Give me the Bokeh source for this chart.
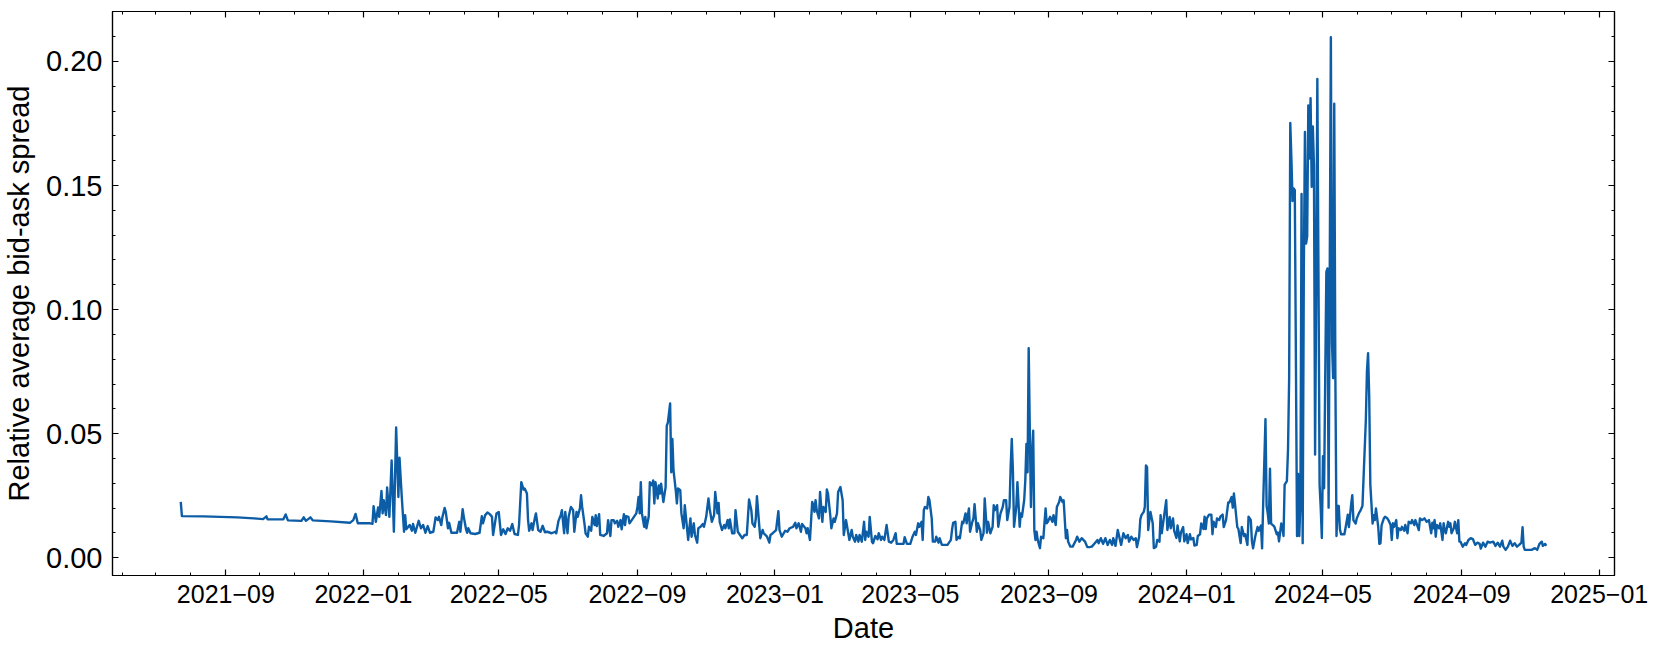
import pandas as pd
from bokeh.plotting import figure
from bokeh.models import (Range1d, FixedTicker, DatetimeTickFormatter, DatetimeAxis,
                          LinearAxis, PrintfTickFormatter, ColumnDataSource,
                          CustomLabelingPolicy)
from bokeh.embed import file_html
from bokeh.resources import INLINE

# ---------------- data ----------------
obs_2021 = [
    ("2021-07-23", 0.0225), ("2021-07-24", 0.0168), ("2021-08-12", 0.0167), ("2021-09-11", 0.0163),
    ("2021-09-26", 0.0159), ("2021-10-04", 0.0156), ("2021-10-07", 0.0167), ("2021-10-08", 0.0155),
    ("2021-10-22", 0.0155), ("2021-10-24", 0.0175), ("2021-10-26", 0.0151), ("2021-11-07", 0.0149),
    ("2021-11-09", 0.0163), ("2021-11-11", 0.0149), ("2021-11-15", 0.0163), ("2021-11-17", 0.0151),
    ("2021-12-03", 0.0147), ("2021-12-20", 0.0141), ("2021-12-23", 0.0152), ("2021-12-25", 0.0177),
    ("2021-12-27", 0.0139),
]

obs_2022 = [
    ("2022-01-07", 0.0139), ("2022-01-09", 0.0137), ("2022-01-10", 0.0208), ("2022-01-12", 0.0145),
    ("2022-01-14", 0.0203), ("2022-01-15", 0.0165), ("2022-01-17", 0.0269), ("2022-01-18", 0.0179),
    ("2022-01-19", 0.0232), ("2022-01-21", 0.0172), ("2022-01-22", 0.0283), ("2022-01-24", 0.0165),
    ("2022-01-26", 0.0392), ("2022-01-28", 0.0105), ("2022-01-30", 0.0525), ("2022-02-01", 0.0245),
    ("2022-02-02", 0.0403), ("2022-02-04", 0.0245), ("2022-02-06", 0.0105), ("2022-02-07", 0.0172),
    ("2022-02-08", 0.0115), ("2022-02-11", 0.0132), ("2022-02-13", 0.0109), ("2022-02-14", 0.0136),
    ("2022-02-16", 0.0101), ("2022-02-19", 0.0149), ("2022-02-21", 0.0119), ("2022-02-23", 0.0132),
    ("2022-02-25", 0.0101), ("2022-02-27", 0.0128), ("2022-03-01", 0.0101), ("2022-03-04", 0.0105),
    ("2022-03-06", 0.0163), ("2022-03-08", 0.0152), ("2022-03-09", 0.0165), ("2022-03-11", 0.0132),
    ("2022-03-12", 0.0163), ("2022-03-14", 0.0201), ("2022-03-15", 0.0185), ("2022-03-17", 0.0119),
    ("2022-03-18", 0.0141), ("2022-03-20", 0.0101), ("2022-03-22", 0.0101), ("2022-03-25", 0.0101),
    ("2022-03-27", 0.0145), ("2022-03-28", 0.0105), ("2022-03-30", 0.0196), ("2022-03-31", 0.0165),
    ("2022-04-02", 0.0115), ("2022-04-03", 0.0101), ("2022-04-04", 0.0119), ("2022-04-06", 0.0099),
    ("2022-04-10", 0.0096), ("2022-04-14", 0.0101), ("2022-04-16", 0.0168), ("2022-04-17", 0.0139),
    ("2022-04-19", 0.0172), ("2022-04-21", 0.0183), ("2022-04-23", 0.0176), ("2022-04-25", 0.0165),
    ("2022-04-26", 0.0092), ("2022-04-29", 0.0179), ("2022-05-01", 0.0185), ("2022-05-03", 0.0092),
    ("2022-05-05", 0.0115), ("2022-05-07", 0.0096), ("2022-05-09", 0.0119), ("2022-05-11", 0.0109),
    ("2022-05-13", 0.0136), ("2022-05-15", 0.0096), ("2022-05-18", 0.0092), ("2022-05-19", 0.0132),
    ("2022-05-21", 0.0305), ("2022-05-23", 0.0275), ("2022-05-24", 0.0279), ("2022-05-26", 0.0259),
    ("2022-05-27", 0.0152), ("2022-05-28", 0.0109), ("2022-05-30", 0.0139), ("2022-05-31", 0.0112),
    ("2022-06-02", 0.0159), ("2022-06-03", 0.0179), ("2022-06-05", 0.0112), ("2022-06-07", 0.0105),
    ("2022-06-09", 0.0129), ("2022-06-11", 0.0103), ("2022-06-13", 0.0105), ("2022-06-17", 0.0099),
    ("2022-06-20", 0.0105), ("2022-06-21", 0.0099), ("2022-06-23", 0.0149), ("2022-06-25", 0.0172),
    ("2022-06-26", 0.0192), ("2022-06-28", 0.0099), ("2022-06-29", 0.0185), ("2022-07-01", 0.0099),
    ("2022-07-02", 0.0165), ("2022-07-04", 0.0205), ("2022-07-06", 0.0192), ("2022-07-07", 0.0105),
    ("2022-07-09", 0.0185), ("2022-07-10", 0.0165), ("2022-07-12", 0.0199), ("2022-07-13", 0.0252),
    ("2022-07-14", 0.0205), ("2022-07-16", 0.0139), ("2022-07-17", 0.0099), ("2022-07-19", 0.0085),
    ("2022-07-20", 0.0125), ("2022-07-22", 0.0109), ("2022-07-23", 0.0165), ("2022-07-25", 0.0132),
    ("2022-07-26", 0.0172), ("2022-07-27", 0.0128), ("2022-07-29", 0.0176), ("2022-07-30", 0.0092),
    ("2022-08-02", 0.0088), ("2022-08-05", 0.0099), ("2022-08-06", 0.0152), ("2022-08-08", 0.0088),
    ("2022-08-09", 0.0152), ("2022-08-11", 0.0152), ("2022-08-12", 0.0139), ("2022-08-14", 0.0149),
    ("2022-08-15", 0.0125), ("2022-08-17", 0.0152), ("2022-08-18", 0.0115), ("2022-08-20", 0.0176),
    ("2022-08-21", 0.0132), ("2022-08-22", 0.0168), ("2022-08-24", 0.0165), ("2022-08-25", 0.0139),
    ("2022-08-28", 0.0159), ("2022-08-31", 0.0179), ("2022-09-01", 0.0205), ("2022-09-02", 0.0245),
    ("2022-09-03", 0.0179), ("2022-09-04", 0.0305), ("2022-09-05", 0.0179), ("2022-09-07", 0.0125),
    ("2022-09-08", 0.0165), ("2022-09-09", 0.0119), ("2022-09-11", 0.0165), ("2022-09-12", 0.0305),
    ("2022-09-14", 0.0292), ("2022-09-15", 0.0312), ("2022-09-16", 0.0219), ("2022-09-17", 0.0305),
    ("2022-09-19", 0.0239), ("2022-09-20", 0.0292), ("2022-09-21", 0.0259), ("2022-09-22", 0.0299),
    ("2022-09-24", 0.0225), ("2022-09-26", 0.0285), ("2022-09-27", 0.0532), ("2022-09-28", 0.0545),
    ("2022-09-30", 0.0622), ("2022-10-01", 0.0345), ("2022-10-02", 0.0479), ("2022-10-03", 0.0352),
    ("2022-10-05", 0.0272), ("2022-10-06", 0.0219), ("2022-10-07", 0.0279), ("2022-10-09", 0.0272),
    ("2022-10-10", 0.0179), ("2022-10-12", 0.0119), ("2022-10-13", 0.0212), ("2022-10-15", 0.0119),
    ("2022-10-16", 0.0072), ("2022-10-18", 0.0159), ("2022-10-19", 0.0085), ("2022-10-21", 0.0139),
    ("2022-10-22", 0.0092), ("2022-10-24", 0.0061), ("2022-10-25", 0.0119), ("2022-10-27", 0.0125),
    ("2022-10-29", 0.0136), ("2022-10-30", 0.0125), ("2022-11-01", 0.0165), ("2022-11-03", 0.0239),
    ("2022-11-04", 0.0199), ("2022-11-06", 0.0145), ("2022-11-08", 0.0172), ("2022-11-09", 0.0265),
    ("2022-11-11", 0.0179), ("2022-11-12", 0.0221), ("2022-11-13", 0.0145), ("2022-11-15", 0.0112),
    ("2022-11-17", 0.0132), ("2022-11-18", 0.0119), ("2022-11-20", 0.0152), ("2022-11-21", 0.0119),
    ("2022-11-22", 0.0155), ("2022-11-24", 0.0099), ("2022-11-26", 0.0099), ("2022-11-27", 0.0192),
    ("2022-11-29", 0.0105), ("2022-12-01", 0.0092), ("2022-12-03", 0.0079), ("2022-12-05", 0.0092),
    ("2022-12-07", 0.0092), ("2022-12-09", 0.0235), ("2022-12-11", 0.0192), ("2022-12-12", 0.0139),
    ("2022-12-14", 0.0125), ("2022-12-15", 0.0159), ("2022-12-16", 0.0248), ("2022-12-18", 0.0132),
    ("2022-12-19", 0.0079), ("2022-12-21", 0.0112), ("2022-12-22", 0.0099), ("2022-12-25", 0.0085),
    ("2022-12-27", 0.0061), ("2022-12-28", 0.0092), ("2022-12-30", 0.0099),
]

obs_2023 = [
    ("2023-01-02", 0.0112), ("2023-01-04", 0.0188), ("2023-01-05", 0.0112), ("2023-01-07", 0.0085),
    ("2023-01-10", 0.0109), ("2023-01-12", 0.0105), ("2023-01-14", 0.0119), ("2023-01-17", 0.0125),
    ("2023-01-19", 0.0141), ("2023-01-20", 0.0119), ("2023-01-22", 0.0139), ("2023-01-24", 0.0105),
    ("2023-01-25", 0.0136), ("2023-01-28", 0.0119), ("2023-01-29", 0.0099), ("2023-01-30", 0.0119),
    ("2023-02-01", 0.0072), ("2023-02-03", 0.0225), ("2023-02-04", 0.0212), ("2023-02-05", 0.0185),
    ("2023-02-06", 0.0232), ("2023-02-07", 0.0192), ("2023-02-09", 0.0159), ("2023-02-10", 0.0265),
    ("2023-02-12", 0.0145), ("2023-02-13", 0.0205), ("2023-02-15", 0.0185), ("2023-02-16", 0.0275),
    ("2023-02-17", 0.0259), ("2023-02-19", 0.0172), ("2023-02-20", 0.0119), ("2023-02-22", 0.0159),
    ("2023-02-23", 0.0145), ("2023-02-25", 0.0179), ("2023-02-26", 0.0265), ("2023-02-28", 0.0285),
    ("2023-03-02", 0.0232), ("2023-03-03", 0.0092), ("2023-03-05", 0.0152), ("2023-03-06", 0.0125),
    ("2023-03-08", 0.0072), ("2023-03-10", 0.0112), ("2023-03-11", 0.0085), ("2023-03-13", 0.0065),
    ("2023-03-14", 0.0092), ("2023-03-16", 0.0065), ("2023-03-17", 0.0092), ("2023-03-19", 0.0065),
    ("2023-03-21", 0.0145), ("2023-03-22", 0.0072), ("2023-03-23", 0.0105), ("2023-03-25", 0.0085),
    ("2023-03-26", 0.0165), ("2023-03-28", 0.0065), ("2023-03-29", 0.0059), ("2023-03-31", 0.0088),
    ("2023-04-02", 0.0075), ("2023-04-03", 0.0099), ("2023-04-05", 0.0072), ("2023-04-06", 0.0085),
    ("2023-04-08", 0.0072), ("2023-04-10", 0.0132), ("2023-04-12", 0.0065), ("2023-04-14", 0.0061),
    ("2023-04-16", 0.0072), ("2023-04-18", 0.0099), ("2023-04-19", 0.0056), ("2023-04-22", 0.0056),
    ("2023-04-25", 0.0056), ("2023-04-26", 0.0083), ("2023-04-28", 0.0056), ("2023-05-01", 0.0056),
    ("2023-05-03", 0.0085), ("2023-05-05", 0.0105), ("2023-05-06", 0.0092), ("2023-05-08", 0.0139),
    ("2023-05-09", 0.0125), ("2023-05-11", 0.0145), ("2023-05-12", 0.0072), ("2023-05-13", 0.0192),
    ("2023-05-14", 0.0205), ("2023-05-16", 0.0199), ("2023-05-17", 0.0245), ("2023-05-18", 0.0232),
    ("2023-05-20", 0.0159), ("2023-05-21", 0.0065), ("2023-05-23", 0.0065), ("2023-05-24", 0.0085),
    ("2023-05-26", 0.0061), ("2023-05-27", 0.0079), ("2023-05-29", 0.0052), ("2023-06-01", 0.0052),
    ("2023-06-03", 0.0052), ("2023-06-06", 0.0072), ("2023-06-07", 0.0112), ("2023-06-08", 0.0141),
    ("2023-06-10", 0.0145), ("2023-06-11", 0.0072), ("2023-06-13", 0.0085), ("2023-06-14", 0.0079),
    ("2023-06-16", 0.0145), ("2023-06-17", 0.0139), ("2023-06-19", 0.0179), ("2023-06-20", 0.0139),
    ("2023-06-22", 0.0199), ("2023-06-23", 0.0105), ("2023-06-25", 0.0145), ("2023-06-26", 0.0159),
    ("2023-06-27", 0.0216), ("2023-06-29", 0.0105), ("2023-06-30", 0.0139), ("2023-07-02", 0.0112),
    ("2023-07-03", 0.0072), ("2023-07-05", 0.0099), ("2023-07-06", 0.0239), ("2023-07-08", 0.0101),
    ("2023-07-09", 0.0145), ("2023-07-11", 0.0099), ("2023-07-13", 0.0125), ("2023-07-14", 0.0212),
    ("2023-07-15", 0.0192), ("2023-07-17", 0.0212), ("2023-07-18", 0.0125), ("2023-07-20", 0.0179),
    ("2023-07-22", 0.0205), ("2023-07-23", 0.0232), ("2023-07-25", 0.0232), ("2023-07-26", 0.0152),
    ("2023-07-28", 0.0205), ("2023-07-29", 0.0365), ("2023-07-30", 0.0479), ("2023-07-31", 0.0352),
    ("2023-08-01", 0.0125), ("2023-08-03", 0.0205), ("2023-08-04", 0.0305), ("2023-08-05", 0.0219),
    ("2023-08-06", 0.0125), ("2023-08-07", 0.0179), ("2023-08-08", 0.0165), ("2023-08-10", 0.0232),
    ("2023-08-11", 0.0312), ("2023-08-12", 0.0459), ("2023-08-13", 0.0345), ("2023-08-14", 0.0845),
    ("2023-08-15", 0.0512), ("2023-08-16", 0.0205), ("2023-08-17", 0.0419), ("2023-08-18", 0.0512),
    ("2023-08-19", 0.0112), ("2023-08-20", 0.0072), ("2023-08-21", 0.0105), ("2023-08-22", 0.0072),
    ("2023-08-24", 0.0039), ("2023-08-25", 0.0085), ("2023-08-27", 0.0079), ("2023-08-29", 0.0199),
    ("2023-08-30", 0.0139), ("2023-08-31", 0.0145), ("2023-09-02", 0.0165), ("2023-09-04", 0.0145),
    ("2023-09-05", 0.0172), ("2023-09-07", 0.0132), ("2023-09-08", 0.0205), ("2023-09-10", 0.0225),
    ("2023-09-11", 0.0245), ("2023-09-13", 0.0225), ("2023-09-14", 0.0232), ("2023-09-16", 0.0079),
    ("2023-09-17", 0.0112), ("2023-09-18", 0.0065), ("2023-09-20", 0.0045), ("2023-09-22", 0.0045),
    ("2023-09-25", 0.0072), ("2023-09-26", 0.0085), ("2023-09-28", 0.0065), ("2023-09-30", 0.0079),
    ("2023-10-03", 0.0065), ("2023-10-05", 0.0043), ("2023-10-07", 0.0043), ("2023-10-09", 0.0045),
    ("2023-10-12", 0.0061), ("2023-10-14", 0.0072), ("2023-10-15", 0.0059), ("2023-10-17", 0.0079),
    ("2023-10-19", 0.0056), ("2023-10-21", 0.0079), ("2023-10-23", 0.0052), ("2023-10-25", 0.0072),
    ("2023-10-27", 0.0052), ("2023-10-28", 0.0079), ("2023-10-30", 0.0048), ("2023-11-01", 0.0112),
    ("2023-11-03", 0.0072), ("2023-11-04", 0.0052), ("2023-11-06", 0.0099), ("2023-11-08", 0.0079),
    ("2023-11-10", 0.0092), ("2023-11-11", 0.0065), ("2023-11-13", 0.0085), ("2023-11-15", 0.0072),
    ("2023-11-17", 0.0079), ("2023-11-18", 0.0043), ("2023-11-20", 0.0085), ("2023-11-21", 0.0155),
    ("2023-11-22", 0.0172), ("2023-11-24", 0.0185), ("2023-11-25", 0.0205), ("2023-11-26", 0.0372),
    ("2023-11-27", 0.0365), ("2023-11-28", 0.0112), ("2023-11-29", 0.0152), ("2023-11-30", 0.0185),
    ("2023-12-02", 0.0139), ("2023-12-03", 0.0039), ("2023-12-05", 0.0045), ("2023-12-06", 0.0072),
    ("2023-12-08", 0.0065), ("2023-12-09", 0.0172), ("2023-12-10", 0.0099), ("2023-12-12", 0.0165),
    ("2023-12-14", 0.0232), ("2023-12-15", 0.0112), ("2023-12-17", 0.0165), ("2023-12-18", 0.0119),
    ("2023-12-20", 0.0159), ("2023-12-21", 0.0109), ("2023-12-23", 0.0080), ("2023-12-24", 0.0130),
    ("2023-12-26", 0.0066), ("2023-12-27", 0.0102), ("2023-12-29", 0.0124), ("2023-12-30", 0.0066),
]

obs_2024 = [
    ("2024-01-01", 0.0095), ("2024-01-02", 0.0059), ("2024-01-04", 0.0095), ("2024-01-05", 0.0074),
    ("2024-01-07", 0.0080), ("2024-01-08", 0.0049), ("2024-01-10", 0.0052), ("2024-01-11", 0.0088),
    ("2024-01-13", 0.0095), ("2024-01-14", 0.0138), ("2024-01-16", 0.0116), ("2024-01-17", 0.0166),
    ("2024-01-18", 0.0116), ("2024-01-19", 0.0159), ("2024-01-21", 0.0174), ("2024-01-23", 0.0174),
    ("2024-01-24", 0.0095), ("2024-01-25", 0.0145), ("2024-01-27", 0.0124), ("2024-01-28", 0.0159),
    ("2024-01-30", 0.0152), ("2024-01-31", 0.0166), ("2024-02-02", 0.0174), ("2024-02-03", 0.0124),
    ("2024-02-05", 0.0152), ("2024-02-07", 0.0223), ("2024-02-08", 0.0223), ("2024-02-10", 0.0245),
    ("2024-02-11", 0.0202), ("2024-02-12", 0.0259), ("2024-02-13", 0.0216), ("2024-02-15", 0.0124),
    ("2024-02-16", 0.0116), ("2024-02-18", 0.0059), ("2024-02-19", 0.0124), ("2024-02-21", 0.0088),
    ("2024-02-22", 0.0095), ("2024-02-24", 0.0052), ("2024-02-25", 0.0166), ("2024-02-27", 0.0152),
    ("2024-02-28", 0.0066), ("2024-02-29", 0.0038), ("2024-03-02", 0.0088), ("2024-03-04", 0.0124),
    ("2024-03-05", 0.0109), ("2024-03-07", 0.0130), ("2024-03-08", 0.0038), ("2024-03-09", 0.0223),
    ("2024-03-11", 0.0559), ("2024-03-12", 0.0209), ("2024-03-13", 0.0180), ("2024-03-14", 0.0138),
    ("2024-03-15", 0.0359), ("2024-03-16", 0.0138), ("2024-03-18", 0.0130), ("2024-03-19", 0.0124),
    ("2024-03-21", 0.0095), ("2024-03-22", 0.0102), ("2024-03-23", 0.0066), ("2024-03-25", 0.0138),
    ("2024-03-26", 0.0124), ("2024-03-27", 0.0088), ("2024-03-28", 0.0295), ("2024-03-30", 0.0309),
    ("2024-03-31", 0.0438), ("2024-04-01", 0.0724), ("2024-04-02", 0.1752), ("2024-04-03", 0.1609),
    ("2024-04-04", 0.1438), ("2024-04-05", 0.1488), ("2024-04-06", 0.1481), ("2024-04-07", 0.0795),
    ("2024-04-08", 0.0088), ("2024-04-09", 0.0338), ("2024-04-10", 0.0088), ("2024-04-11", 0.0223),
    ("2024-04-12", 0.1466), ("2024-04-13", 0.0059), ("2024-04-14", 0.1152), ("2024-04-15", 0.1716),
    ("2024-04-16", 0.1266), ("2024-04-17", 0.1295), ("2024-04-18", 0.1823), ("2024-04-19", 0.1609),
    ("2024-04-20", 0.1852), ("2024-04-21", 0.1495), ("2024-04-22", 0.1738), ("2024-04-23", 0.1581),
    ("2024-04-24", 0.0416), ("2024-04-25", 0.1080), ("2024-04-26", 0.1930), ("2024-04-27", 0.1152),
    ("2024-04-28", 0.0295), ("2024-04-29", 0.0202), ("2024-04-30", 0.0080), ("2024-05-01", 0.0409),
    ("2024-05-02", 0.0280), ("2024-05-03", 0.0724), ("2024-05-04", 0.1152), ("2024-05-05", 0.1166),
    ("2024-05-06", 0.0202), ("2024-05-07", 0.1152), ("2024-05-08", 0.2098), ("2024-05-09", 0.0866),
    ("2024-05-10", 0.0724), ("2024-05-11", 0.1830), ("2024-05-12", 0.0724), ("2024-05-13", 0.0088),
    ("2024-05-14", 0.0209), ("2024-05-15", 0.0209), ("2024-05-16", 0.0116), ("2024-05-17", 0.0095),
    ("2024-05-19", 0.0095), ("2024-05-20", 0.0095), ("2024-05-22", 0.0145), ("2024-05-23", 0.0174),
    ("2024-05-24", 0.0124), ("2024-05-26", 0.0216), ("2024-05-27", 0.0252), ("2024-05-28", 0.0152),
    ("2024-05-30", 0.0138), ("2024-05-31", 0.0159), ("2024-06-02", 0.0181), ("2024-06-03", 0.0188),
    ("2024-06-05", 0.0209), ("2024-06-06", 0.0323), ("2024-06-08", 0.0552), ("2024-06-09", 0.0752),
    ("2024-06-10", 0.0824), ("2024-06-11", 0.0652), ("2024-06-12", 0.0295), ("2024-06-14", 0.0138),
    ("2024-06-15", 0.0172), ("2024-06-16", 0.0152), ("2024-06-17", 0.0199), ("2024-06-19", 0.0125),
    ("2024-06-20", 0.0056), ("2024-06-21", 0.0059), ("2024-06-22", 0.0132), ("2024-06-24", 0.0159),
    ("2024-06-25", 0.0165), ("2024-06-27", 0.0159), ("2024-06-28", 0.0152), ("2024-06-30", 0.0132),
    ("2024-07-01", 0.0072), ("2024-07-02", 0.0139), ("2024-07-03", 0.0125), ("2024-07-05", 0.0152),
    ("2024-07-06", 0.0079), ("2024-07-07", 0.0119), ("2024-07-09", 0.0112), ("2024-07-10", 0.0125),
    ("2024-07-12", 0.0109), ("2024-07-13", 0.0132), ("2024-07-15", 0.0099), ("2024-07-16", 0.0145),
    ("2024-07-18", 0.0139), ("2024-07-19", 0.0152), ("2024-07-21", 0.0132), ("2024-07-22", 0.0152),
    ("2024-07-23", 0.0139), ("2024-07-25", 0.0112), ("2024-07-26", 0.0159), ("2024-07-28", 0.0152),
    ("2024-07-30", 0.0159), ("2024-08-01", 0.0145), ("2024-08-03", 0.0152), ("2024-08-05", 0.0099),
    ("2024-08-06", 0.0141), ("2024-08-07", 0.0119), ("2024-08-08", 0.0152), ("2024-08-09", 0.0085),
    ("2024-08-10", 0.0132), ("2024-08-12", 0.0119), ("2024-08-13", 0.0139), ("2024-08-15", 0.0072),
    ("2024-08-16", 0.0139), ("2024-08-17", 0.0112), ("2024-08-18", 0.0099), ("2024-08-20", 0.0145),
    ("2024-08-21", 0.0125), ("2024-08-22", 0.0139), ("2024-08-23", 0.0099), ("2024-08-25", 0.0119),
    ("2024-08-26", 0.0145), ("2024-08-28", 0.0099), ("2024-08-29", 0.0152), ("2024-08-30", 0.0065),
    ("2024-08-31", 0.0065), ("2024-09-02", 0.0045), ("2024-09-04", 0.0059), ("2024-09-05", 0.0052),
    ("2024-09-07", 0.0072), ("2024-09-09", 0.0079), ("2024-09-11", 0.0075), ("2024-09-13", 0.0052),
    ("2024-09-15", 0.0061), ("2024-09-17", 0.0056), ("2024-09-18", 0.0037), ("2024-09-20", 0.0061),
    ("2024-09-22", 0.0045), ("2024-09-24", 0.0065), ("2024-09-26", 0.0061), ("2024-09-29", 0.0065),
    ("2024-10-01", 0.0048), ("2024-10-03", 0.0061), ("2024-10-05", 0.0045), ("2024-10-07", 0.0069),
    ("2024-10-08", 0.0045), ("2024-10-10", 0.0032), ("2024-10-12", 0.0045), ("2024-10-14", 0.0069),
    ("2024-10-16", 0.0048), ("2024-10-18", 0.0059), ("2024-10-20", 0.0045), ("2024-10-22", 0.0052),
    ("2024-10-24", 0.0061), ("2024-10-25", 0.0123), ("2024-10-26", 0.0045), ("2024-10-27", 0.0032),
    ("2024-10-30", 0.0032), ("2024-11-02", 0.0032), ("2024-11-05", 0.0039), ("2024-11-07", 0.0032),
    ("2024-11-09", 0.0056), ("2024-11-11", 0.0065), ("2024-11-12", 0.0048), ("2024-11-14", 0.0056),
    ("2024-11-15", 0.0048),
]

x_tick_labels = ["2021\u221209", "2022\u221201", "2022\u221205", "2022\u221209", "2023\u221201",
                 "2023\u221205", "2023\u221209", "2024\u221201", "2024\u221205", "2024\u221209",
                 "2025\u221201"]
y_tick_labels = ["0.00", "0.05", "0.10", "0.15", "0.20"]
x_title = "Date"
y_title = "Relative average bid-ask spread"
line_color = "#0C5DA5"
font = "Liberation Sans"

# ---------------- build ----------------
obs = obs_2021 + obs_2022 + obs_2023 + obs_2024
dates = pd.to_datetime([d for d, _ in obs])
values = [v for _, v in obs]
src = ColumnDataSource(dict(date=dates, spread=values))

xmin, xmax = dates.min(), dates.max()
xpad = (xmax - xmin) * 0.05
ymin, ymax = min(values), max(values)
ypad = (ymax - ymin) * 0.05


def to_ms(ts):
    return ts.value // 10**6


x_major = [to_ms(pd.Timestamp(s.replace("\u2212", "-") + "-01")) for s in x_tick_labels]
x_minor = [to_ms(t) for t in pd.date_range("2021-05-01", "2025-02-01", freq="MS")]
y_major = [float(s) for s in y_tick_labels]
y_minor = [k / 100 for k in range(0, 23)]

x_ticker = FixedTicker(ticks=x_major, minor_ticks=x_minor)
y_ticker = FixedTicker(ticks=y_major, minor_ticks=y_minor)
fmt = "%Y\u2212%m"
x_fmt = DatetimeTickFormatter(days=fmt, months=fmt, years=fmt)
y_fmt = PrintfTickFormatter(format="%.2f")

p = figure(width=1653, height=646, x_axis_type="datetime",
           x_range=Range1d(xmin - xpad, xmax + xpad),
           y_range=Range1d(ymin - ypad, ymax + ypad),
           output_backend="svg", toolbar_location=None,
           min_border_left=112, min_border_right=39, min_border_top=8, min_border_bottom=70)
p.background_fill_color = "white"
p.border_fill_color = "white"
p.outline_line_color = "black"
p.outline_line_width = 1.2
p.xgrid.visible = False
p.ygrid.visible = False


def style(ax, labels=True, size="25px"):
    ax.axis_line_color = "black"
    ax.axis_line_width = 1.2
    ax.major_tick_in = 6
    ax.major_tick_out = 0
    ax.minor_tick_in = 3
    ax.minor_tick_out = 0
    ax.major_tick_line_color = "black"
    ax.major_tick_line_width = 1.2
    ax.minor_tick_line_color = "black"
    ax.minor_tick_line_width = 1.0
    ax.major_label_text_font = font
    ax.major_label_text_color = "black"
    if labels:
        ax.major_label_text_font_size = size
    else:
        # tick marks only (mirrored ticks on top/right): show no labels at all
        ax.major_label_policy = CustomLabelingPolicy(code="return []")
        ax.major_label_standoff = 0


xb = p.below[0]
xb.ticker = x_ticker
xb.formatter = x_fmt
style(xb, True, "25px")
xb.major_label_standoff = 9
xb.axis_label = x_title
xb.axis_label_text_font = font
xb.axis_label_text_font_size = "29px"
xb.axis_label_text_font_style = "normal"
xb.axis_label_text_color = "black"
xb.axis_label_standoff = 6

yl = p.left[0]
yl.ticker = y_ticker
yl.formatter = y_fmt
style(yl, True, "29px")
yl.major_label_standoff = 10
yl.axis_label = y_title
yl.axis_label_text_font = font
yl.axis_label_text_font_size = "29px"
yl.axis_label_text_font_style = "normal"
yl.axis_label_text_color = "black"
yl.axis_label_standoff = 8

xt = DatetimeAxis(ticker=x_ticker, formatter=x_fmt)
style(xt, False)
p.add_layout(xt, "above")

yr = LinearAxis(ticker=y_ticker, formatter=y_fmt)
style(yr, False)
p.add_layout(yr, "right")

p.line(x="date", y="spread", source=src, line_color=line_color, line_width=2.4,
       line_join="round")

open("out.html", "w").write(file_html(p, INLINE))
